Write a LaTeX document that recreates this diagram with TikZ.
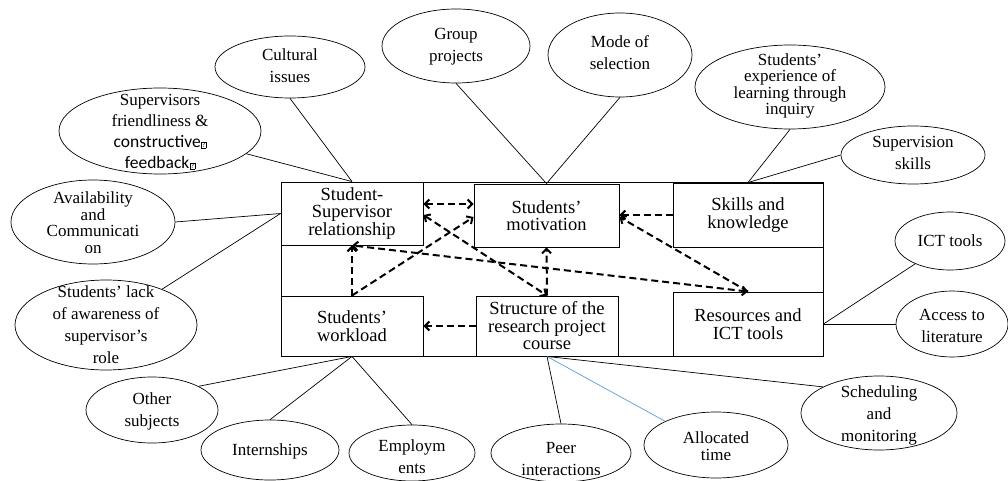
\documentclass[tikz,border=0pt]{standalone}
\usepackage{fontspec}
\setmainfont{Liberation Serif}
\newfontfamily\carl{Carlito}
\usetikzlibrary{shapes.geometric,arrows.meta,calc}
\definecolor{linkblue}{HTML}{5B9BD5}
\newcommand\qbx{\kern0.6pt\raisebox{0.2pt}{\setlength\fboxsep{0.4pt}\setlength\fboxrule{0.5pt}\fbox{\fontsize{7}{7}\selectfont ?}}}
\begin{document}
\begin{tikzpicture}[x=1pt,y=-1pt,
 ell/.style={draw,ellipse,line width=0.7pt,inner sep=0pt},
 etxt/.style={align=center,inner sep=0pt,font=\fontsize{17}{22}\selectfont},
 etxtt/.style={align=center,inner sep=0pt,font=\fontsize{17}{16.5}\selectfont},
 box/.style={draw,rectangle,line width=0.9pt,inner sep=0pt,align=center,font=\fontsize{18.5}{17.5}\selectfont},
 conn/.style={line width=0.7pt},
 darr/.style={line width=2pt,dash pattern=on 7pt off 4pt,-{Straight Barb[length=4.5pt,width=9pt]}},
 dbl/.style={line width=2pt,dash pattern=on 7pt off 4pt,{Straight Barb[length=4.5pt,width=9pt]}-{Straight Barb[length=4.5pt,width=9pt]}}
]
\useasboundingbox (0,0) rectangle (1008,481);

% outer frame
\draw[line width=0.9pt] (281,182) rectangle (823,356);

% boxes
\node[box,minimum width=142pt,minimum height=63pt] (ssr) at (352,213.5) {Student-\\Supervisor\\relationship};
\node[box,minimum width=145pt,minimum height=63pt] (mot) at (546.5,215.5) {Students’\\motivation};
\node[box,minimum width=150pt,minimum height=64pt] (skl) at (748,215) {Skills and\\knowledge};
\node[box,minimum width=142pt,minimum height=60pt] (wl) at (352,326) {Students’\\workload};
\node[box,minimum width=142pt,minimum height=60pt] (str) at (547,326) {Structure of the\\research project\\course};
\node[box,minimum width=150pt,minimum height=64pt] (res) at (748,324) {Resources and\\ICT tools};

% ellipses
\node[ell,minimum width=150pt,minimum height=62pt] (cul) at (290,67) {};
\node[etxt] (cul-t) at (290,66) {Cultural\\issues};
\node[ell,minimum width=148pt,minimum height=74pt] (grp) at (456,46) {};
\node[etxt] (grp-t) at (456,47) {Group\\projects};
\node[ell,minimum width=144pt,minimum height=84pt] (mode) at (620,55) {};
\node[etxt] (mode-t) at (620,53) {Mode of\\selection};
\node[ell,minimum width=190pt,minimum height=84pt] (exp) at (790,87) {};
\node[etxtt] (exp-t) at (790,86) {Students’\\experience of\\learning through\\inquiry};
\node[ell,minimum width=144pt,minimum height=58pt] (svs) at (913,155) {};
\node[etxt] (svs-t) at (913,153) {Supervision\\skills};
\node[ell,minimum width=110pt,minimum height=58pt] (ict) at (950,241) {};
\node[etxt] (ict-t) at (950,241) {ICT tools};
\node[ell,minimum width=112pt,minimum height=66pt] (acc) at (952,324) {};
\node[etxt] (acc-t) at (952,326) {Access to\\literature};
\node[ell,minimum width=156pt,minimum height=74pt] (sch) at (879,413) {};
\node[etxt] (sch-t) at (879,415) {Scheduling\\and\\monitoring};
\node[ell,minimum width=144pt,minimum height=66pt] (alt) at (716,445) {};
\node[etxtt] (alt-t) at (716,446) {Allocated\\time};
\node[ell,minimum width=140pt,minimum height=58pt] (peer) at (561,453) {};
\node[etxt] (peer-t) at (561,459) {Peer\\interactions};
\node[ell,minimum width=126pt,minimum height=56pt] (emp) at (412,453) {};
\node[etxt] (emp-t) at (412,457) {Employm\\ents};
\node[ell,minimum width=138pt,minimum height=60pt] (int) at (270,450) {};
\node[etxt] (int-t) at (270,451) {Internships};
\node[ell,minimum width=132pt,minimum height=66pt] (oth) at (152,410) {};
\node[etxt] (oth-t) at (152,411) {Other\\subjects};
\node[ell,minimum width=182pt,minimum height=90pt] (lack) at (106,325) {};
\node[etxt] (lack-t) at (106,325) {Students’ lack\\of awareness of\\supervisor’s\\role};
\node[ell,minimum width=164pt,minimum height=84pt] (ava) at (93,222) {};
\node[etxtt] (ava-t) at (93,222.5) {Availability\\and\\Communicati\\on};
\node[ell,minimum width=202pt,minimum height=86pt] (sup) at (160,131) {};
\node[align=center,inner sep=0pt,font=\fontsize{17}{21}\selectfont] (sup-t) at (160,132) {Supervisors\\friendliness \&\\{\carl\fontsize{17.5}{21}\selectfont constructive\qbx}\\{\carl\fontsize{17.5}{21}\selectfont feedback\qbx}};

% solid connectors
\draw[conn] (cul.south) -- (ssr.north);
\draw[conn] (sup) -- (ssr.north);
\draw[conn] (ava.east) -- (ssr.west);
\draw[conn] (lack) -- (ssr.west);
\draw[conn] (grp.south) -- (mot.north);
\draw[conn] (mode.south) -- (mot.north);
\draw[conn] (exp.south) -- (skl.north);
\draw[conn] (svs.west) -- (skl.north);
\draw[conn] (ict) -- (res.east);
\draw[conn] (acc.west) -- (res.east);
\draw[conn] (sch.155) -- (str.south);
\draw[conn,linkblue] (alt.155) -- (str.south);
\draw[conn] (peer.north) -- (str.south);
\draw[conn] (oth.27) -- (wl.south);
\draw[conn] (int.north) -- (wl.south);
\draw[conn] (emp.north) -- (wl.south);

% dashed arrows
\draw[dbl] ($(ssr.east)+(0,-9.5)$) -- ($(mot.west)+(0,-11.5)$);
\draw[dbl] ($(ssr.east)+(0,1.5)$) -- (str.north);
\draw[darr] (wl.north) -- (ssr.south);
\draw[darr] (wl.north) -- ($(mot.west)+(0,1.5)$);
\draw[dbl] (res.north) -- (ssr.south);
\draw[darr] (res.north) -- ($(mot.east)+(0,1.5)$);
\draw[darr] (skl.west) -- ($(mot.east)+(0,-0.5)$);
\draw[darr] (str.west) -- (wl.east);
\draw[darr] (str.north) -- (mot.south);
\end{tikzpicture}
\end{document}
